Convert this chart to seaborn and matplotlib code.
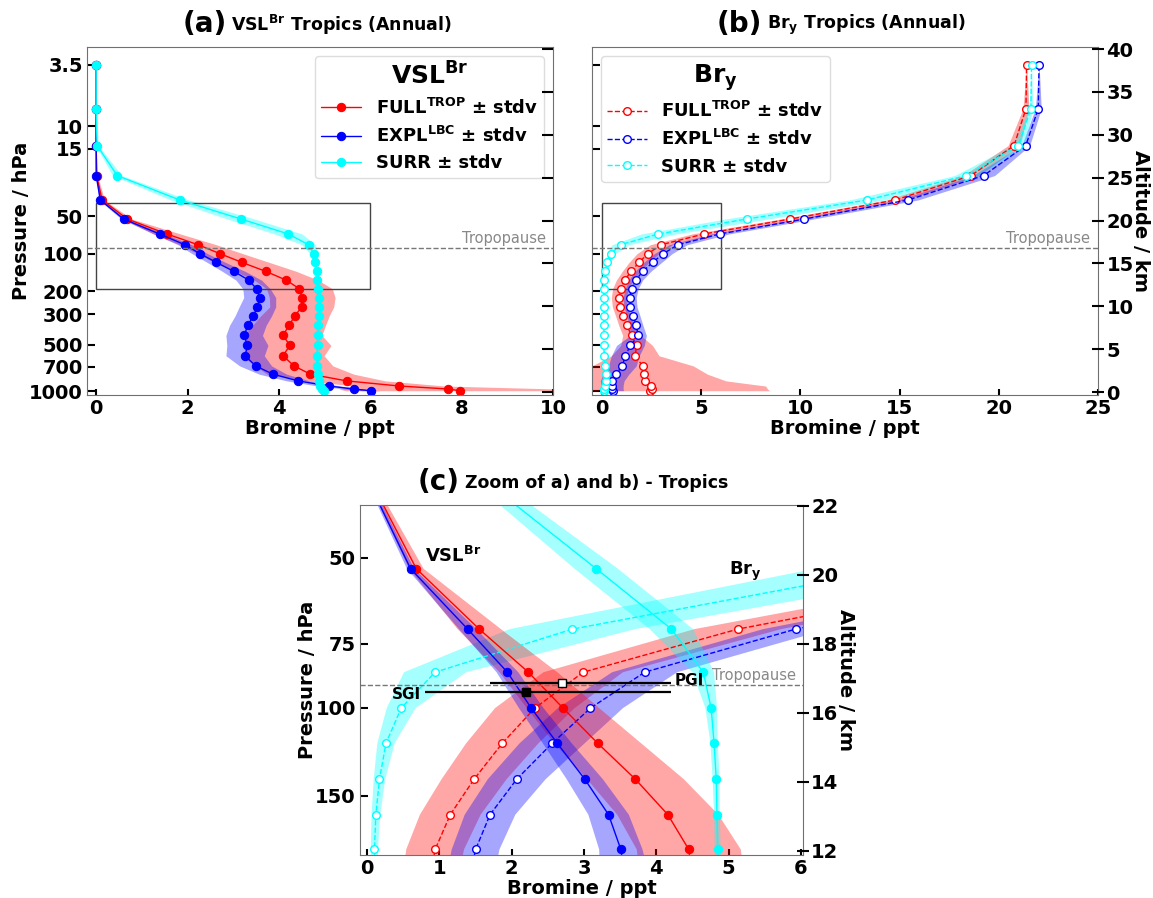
import numpy as np
import matplotlib
matplotlib.use("Agg")
import matplotlib.pyplot as plt
import seaborn as sns
from matplotlib.patches import Rectangle

# ---------------- DATA ----------------

# model level altitudes (km)
levels = [0.15, 0.35, 0.7, 1.3, 2.08, 3.05, 4.23, 5.44, 6.6, 7.78, 8.88, 9.93, 11.02,
          12.04, 13.05, 14.08, 15.12, 16.14, 17.18, 18.43, 20.18, 22.4, 25.25, 28.75, 33.05, 38.2]

# VSL^Br (ppt)
vsl_full = [7.96, 7.71, 6.64, 5.48, 4.69, 4.33, 4.09, 4.24, 4.09, 4.22, 4.35, 4.5, 4.51,
            4.45, 4.16, 3.71, 3.19, 2.71, 2.23, 1.55, 0.68, 0.13, 0.01, 0.0, 0.0, 0.0]
vsl_full_sd = [2.5, 2.4, 1.0, 0.85, 0.95, 0.85, 0.9, 0.9, 0.85, 0.8, 0.75, 0.7, 0.72,
               0.72, 0.7, 0.67, 0.6, 0.5, 0.4, 0.3, 0.1, 0.05, 0.02, 0.0, 0.0, 0.0]
vsl_expl = [6.01, 5.64, 5.1, 4.42, 3.87, 3.49, 3.26, 3.31, 3.24, 3.32, 3.44, 3.53, 3.58,
            3.51, 3.34, 3.01, 2.63, 2.27, 1.94, 1.39, 0.6, 0.09, 0.0, 0.0, 0.0, 0.0]
vsl_expl_sd = [0.2, 0.2, 0.25, 0.25, 0.3, 0.35, 0.42, 0.45, 0.4, 0.4, 0.4, 0.4, 0.35,
               0.3, 0.28, 0.25, 0.2, 0.17, 0.15, 0.12, 0.05, 0.03, 0.01, 0.0, 0.0, 0.0]
vsl_surr = [4.99, 4.95, 4.91, 4.88, 4.86, 4.84, 4.84, 4.85, 4.85, 4.86, 4.87, 4.87, 4.87,
            4.85, 4.84, 4.83, 4.80, 4.76, 4.65, 4.21, 3.17, 1.83, 0.46, 0.02, 0.0, 0.0]
vsl_surr_sd = [0.04, 0.04, 0.04, 0.04, 0.04, 0.04, 0.04, 0.04, 0.04, 0.04, 0.04, 0.04, 0.04,
               0.04, 0.04, 0.05, 0.05, 0.08, 0.15, 0.3, 0.3, 0.2, 0.1, 0.03, 0.0, 0.0]

# Br_y (ppt)
bry_full = [2.45, 2.55, 2.5, 2.15, 2.12, 2.05, 1.68, 1.75, 1.5, 1.25, 1.07, 0.9, 0.86,
            0.94, 1.15, 1.48, 1.87, 2.32, 2.99, 5.13, 9.5, 14.79, 18.6, 20.77, 21.37, 21.4]
bry_full_sd = [6.0, 5.8, 5.75, 4.1, 3.2, 2.55, 1.2, 0.8, 0.45, 0.4, 0.38, 0.37, 0.38,
               0.4, 0.42, 0.45, 0.5, 0.55, 0.55, 0.6, 0.5, 0.45, 0.4, 0.3, 0.15, 0.0]
bry_expl = [0.55, 0.52, 0.52, 0.52, 0.71, 1.03, 1.18, 1.44, 1.84, 1.72, 1.59, 1.44, 1.4,
            1.5, 1.7, 2.07, 2.56, 3.09, 3.84, 5.93, 10.21, 15.43, 19.24, 21.36, 21.99, 22.03]
bry_expl_sd = [0.55, 0.55, 0.55, 0.6, 0.65, 0.7, 0.7, 0.7, 0.4, 0.35, 0.33, 0.33, 0.33,
               0.33, 0.35, 0.4, 0.45, 0.45, 0.45, 0.45, 0.45, 0.5, 0.55, 0.2, 0.15, 0.0]
bry_surr = [0.1, 0.12, 0.15, 0.2, 0.2, 0.15, 0.12, 0.1, 0.1, 0.1, 0.1, 0.1, 0.1,
            0.1, 0.12, 0.17, 0.26, 0.47, 0.94, 2.84, 7.3, 13.37, 18.37, 20.99, 21.62, 21.65]
bry_surr_sd = [0.05, 0.05, 0.05, 0.05, 0.05, 0.05, 0.05, 0.05, 0.05, 0.05, 0.05, 0.05, 0.05,
               0.05, 0.06, 0.08, 0.12, 0.2, 0.43, 0.87, 1.1, 0.9, 0.6, 0.3, 0.1, 0.0]

# pressure labels and their altitude (km) on the model grid
p_labels = [3.5, 10, 15, 50, 75, 100, 150, 200, 300, 500, 700, 1000]
p_alt = [38.2, 31.0, 28.4, 20.5, 18.0, 16.15, 13.6, 11.75, 9.1, 5.5, 2.95, 0.12]
p_show_ab = [3.5, 10, 15, 50, 100, 200, 300, 500, 700, 1000]
p_show_c = [50, 75, 100, 150]

tropopause_km = 16.8

# gradient estimates (ppt) at the tropopause
sgi = [2.2, 0.8, 4.2, 16.62]   # value, low, high, altitude
pgi = [2.7, 1.7, 4.2, 16.88]

# ---------------- STYLE ----------------
sns.set_style("ticks")
plt.rcParams['font.family'] = ['DejaVu Sans']
plt.rcParams['font.weight'] = 'bold'
plt.rcParams['axes.labelweight'] = 'bold'
plt.rcParams['mathtext.default'] = 'bf'
plt.rcParams['axes.edgecolor'] = '#707070'
for k in ['text.color', 'axes.labelcolor', 'xtick.color', 'ytick.color']:
    plt.rcParams[k] = 'black'

RED, BLUE, CYAN = '#ff0000', '#0000ff', '#00ffff'
ALPHA = 0.35

vsl_series = [
    ("FULL$^{TROP}$ ± stdv", vsl_full, vsl_full_sd, RED),
    ("EXPL$^{LBC}$ ± stdv", vsl_expl, vsl_expl_sd, BLUE),
    ("SURR ± stdv", vsl_surr, vsl_surr_sd, CYAN),
]
bry_series = [
    ("FULL$^{TROP}$ ± stdv", bry_full, bry_full_sd, RED),
    ("EXPL$^{LBC}$ ± stdv", bry_expl, bry_expl_sd, BLUE),
    ("SURR ± stdv", bry_surr, bry_surr_sd, CYAN),
]
z = np.array(levels)


def draw_bands(ax, series):
    for lab, m, s, c in series:
        m, s = np.array(m), np.array(s)
        ax.fill_betweenx(z, m - s, m + s, color=c, alpha=ALPHA, lw=0)


def draw_lines(ax, series, open_marker, legend):
    for lab, m, s, c in series:
        kw = dict(marker='o', markersize=6, lw=1, color=c)
        if open_marker:
            kw.update(markerfacecolor='white', markeredgecolor=c, markeredgewidth=1,
                      linestyle='--', markersize=5.5)
        else:
            kw.update(markeredgecolor=c)
        sns.lineplot(x=m, y=levels, sort=False, estimator=None, ax=ax,
                     label=lab if legend else None, **kw)


def frame(ax, xlim, xticks, ylim, pshow, left_labels, right_ticks, right_labels):
    ax.set_xlim(*xlim)
    ax.set_ylim(*ylim)
    ax.set_xticks(xticks)
    ax.set_xticklabels([str(t) for t in xticks])
    ax.set_yticks([p_alt[p_labels.index(p)] for p in pshow])
    ax.set_yticklabels([str(p) for p in pshow] if left_labels else [])
    ax.tick_params(axis='both', direction='in', length=6, width=1.5, labelsize=14,
                   colors='black', pad=3)
    ax.tick_params(axis='x', length=4)
    ax.set_xlabel("Bromine / ppt", fontsize=14, labelpad=0.5)
    if left_labels:
        ax.set_ylabel("Pressure / hPa", fontsize=14, labelpad=-1)
    else:
        ax.set_ylabel("")
    ax2 = ax.twinx()
    ax2.set_ylim(*ylim)
    ax2.set_yticks(right_ticks)
    ax2.tick_params(axis='y', direction='inout' if right_labels else 'in', length=8,
                    width=1.5, labelsize=14, pad=2, colors='black')
    if right_labels:
        ax2.set_yticklabels([str(t) for t in right_ticks])
        ax2.set_ylabel("Altitude / km", fontsize=14, rotation=270, labelpad=12)
    else:
        ax2.set_yticklabels([])
    for sp in ax2.spines.values():
        sp.set_visible(False)
    ax.axhline(tropopause_km, color='#777777', ls='--', lw=1)
    ax.text(0.985, tropopause_km + 0.25 if ylim[1] > 30 else tropopause_km + 0.06,
            "Tropopause", transform=ax.get_yaxis_transform(), ha='right', va='bottom',
            color='#888888', fontsize=10.5, fontweight='normal')
    return ax2


def title(ax, tag, text, xsplit):
    ax.text(xsplit, 1.066, tag, transform=ax.transAxes, ha='right', va='center',
            fontsize=20)
    ax.text(xsplit + 0.01, 1.063, text, transform=ax.transAxes, ha='left', va='center',
            fontsize=12.5)


legend_kw = dict(fontsize=13, title_fontsize=18, handlelength=2.2, handletextpad=0.8,
                 borderpad=0.35, labelspacing=0.45, fancybox=True, edgecolor='#dddddd',
                 framealpha=1)

fig = plt.figure(figsize=(11.53, 8.98), dpi=100)
ax_a = fig.add_axes([0.0755, 0.5601, 0.4041, 0.3876])
ax_b = fig.add_axes([0.5134, 0.5601, 0.4389, 0.3876])
ax_c = fig.add_axes([0.3122, 0.0479, 0.3842, 0.3898])

# (a) VSL
draw_bands(ax_a, vsl_series)
draw_lines(ax_a, vsl_series, False, True)
frame(ax_a, (-0.2, 10), [0, 2, 4, 6, 8, 10], (-0.35, 40.25), p_show_ab, True,
      list(range(0, 41, 5)), False)
ax_a.add_patch(Rectangle((0, 12), 6, 10, fill=False, ec='#444444', lw=1))
ax_a.legend(loc='upper right', title="VSL$^{Br}$", **legend_kw)
title(ax_a, "(a)", "VSL$^{Br}$ Tropics (Annual)", 0.30)

# (b) Bry
draw_bands(ax_b, bry_series)
draw_lines(ax_b, bry_series, True, True)
frame(ax_b, (-0.5, 25), [0, 5, 10, 15, 20, 25], (-0.35, 40.25), p_show_ab, False,
      list(range(0, 41, 5)), True)
ax_b.add_patch(Rectangle((0, 12), 6, 10, fill=False, ec='#444444', lw=1))
ax_b.legend(loc='upper left', title="Br$_y$", **legend_kw)
title(ax_b, "(b)", "Br$_y$ Tropics (Annual)", 0.336)

# (c) zoom
draw_bands(ax_c, bry_series)
draw_bands(ax_c, vsl_series)
draw_lines(ax_c, bry_series, True, False)
draw_lines(ax_c, vsl_series, False, False)
frame(ax_c, (-0.1, 6.03), [0, 1, 2, 3, 4, 5, 6], (11.88, 22.03), p_show_c, True,
      [12, 14, 16, 18, 20, 22], True)
for g, fc in [(sgi, 'black'), (pgi, 'white')]:
    ax_c.errorbar(g[0], g[3], xerr=[[g[0] - g[1]], [g[2] - g[0]]], fmt='s', color='black',
                  mfc=fc, mec='black', ms=6, elinewidth=1.6, capsize=0, zorder=6)
ax_c.text(sgi[1] - 0.05, sgi[3] - 0.1, "SGI", ha='right', va='center', fontsize=11)
ax_c.text(pgi[2] + 0.05, pgi[3] + 0.05, "PGI", ha='left', va='center', fontsize=11)
ax_c.text(0.8, 20.55, "VSL$^{Br}$", ha='left', va='center', fontsize=13)
ax_c.text(5.0, 20.1, "Br$_y$", ha='left', va='center', fontsize=13)
title(ax_c, "(c)", "Zoom of a) and b) - Tropics", 0.226)

fig.savefig("out.png", dpi=100)
